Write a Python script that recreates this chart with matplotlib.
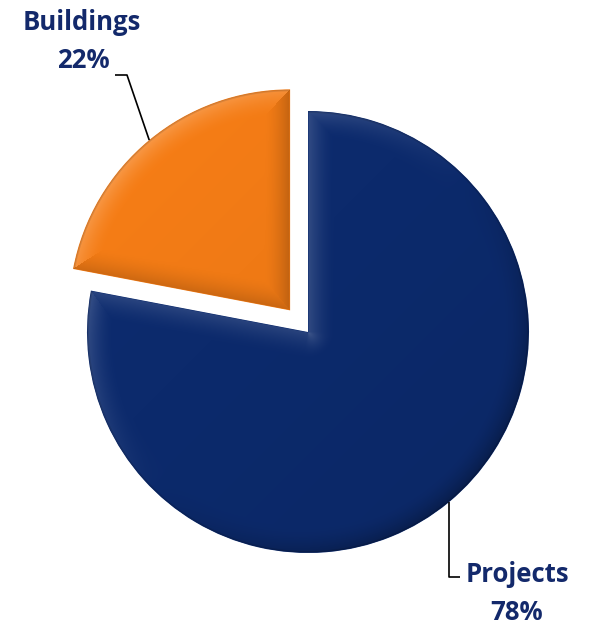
import numpy as np
import matplotlib
matplotlib.use("Agg")
import matplotlib.pyplot as plt
from matplotlib.colors import to_rgb

# Portfolio split
categories = ["Projects", "Buildings"]
shares = [78, 22]
pct_labels = ["78%", "22%"]
slice_colors = ["#0c2a6c", "#f07a15"]
explode = [0.0, 0.127]

W, H = 589, 626
R_PX = 221.0          # pie radius in pixels
CX, CY = 308.0, 332.0  # pie centre in pixels (from top-left)
TEXT_COLOR = "#13296b"


def px(x, y):
    """Pixel position (from top-left) to data coordinates (radius = 1)."""
    return (x - CX) / R_PX, (CY - y) / R_PX


fig = plt.figure(figsize=(W / 100, H / 100), dpi=100)
ax = fig.add_axes([0, 0, 1, 1])

wedges, _ = ax.pie(shares, colors=slice_colors, explode=explode,
                   startangle=90, counterclock=False, radius=1.0,
                   center=(0, 0), wedgeprops=dict(linewidth=0))

x0, y1 = px(0, 0)
x1, y0 = px(W, H)
ax.set_xlim(x0, x1)
ax.set_ylim(y0, y1)
ax.set_aspect("equal")
ax.axis("off")

# Bevel shading over each wedge
gx = np.linspace(x0, x1, W, endpoint=False) + (x1 - x0) / W / 2
gy = np.linspace(y1, y0, H, endpoint=False) - (y1 - y0) / H / 2
XX, YY = np.meshgrid(gx, gy)
light = np.array([-1.0, 1.0]) / np.sqrt(2)
bevel_w = 26.0 / R_PX
pix = 1.0 / R_PX

for w, col in zip(wedges, slice_colors):
    cx, cy = w.center
    r = w.r
    t1, t2 = np.deg2rad(w.theta1), np.deg2rad(w.theta2)
    rx, ry = XX - cx, YY - cy
    rho = np.hypot(rx, ry) + 1e-12
    ang = np.mod(np.arctan2(ry, rx) - t1, 2 * np.pi)
    span = np.mod(t2 - t1, 2 * np.pi)
    if span == 0:
        span = 2 * np.pi
    inside = (ang <= span) & (rho <= r)

    # distance to the arc
    d_arc = r - rho
    nx_arc, ny_arc = rx / rho, ry / rho

    dists = [np.abs(d_arc)]
    nxs = [nx_arc]
    nys = [ny_arc]
    for t, sgn in ((t1, -1.0), (t2, 1.0)):
        ux, uy = np.cos(t), np.sin(t)
        proj = rx * ux + ry * uy
        perp = np.abs(rx * uy - ry * ux)
        d = np.where(proj < 0, rho,
                     np.where(proj > r, np.hypot(rx - r * ux, ry - r * uy), perp))
        # outward normal of the straight edge
        nx = np.full_like(rx, -sgn * uy)
        ny = np.full_like(rx, sgn * ux)
        nx = np.where(proj < 0, -nx_arc, nx)
        ny = np.where(proj < 0, -ny_arc, ny)
        dists.append(d)
        nxs.append(nx)
        nys.append(ny)
    dists = np.stack(dists)
    idx = np.argmin(dists, axis=0)
    dmin = np.take_along_axis(dists, idx[None], 0)[0]
    nx = np.take_along_axis(np.stack(nxs), idx[None], 0)[0]
    ny = np.take_along_axis(np.stack(nys), idx[None], 0)[0]

    f = np.clip(1 - dmin / bevel_w, 0, 1) ** 1.6
    dot = nx * light[0] + ny * light[1]
    base = np.array(to_rgb(col))
    rgb = np.broadcast_to(base, XX.shape + (3,)).copy()
    # soft sheen toward the upper left
    sheen = np.clip(((-rx + ry) / (2 * r)) * 0.5 + 0.5, 0, 1)
    rgb = rgb * (0.94 + 0.10 * sheen[..., None])
    lit = np.clip(dot, 0, None)[..., None] * f[..., None]
    shade = np.clip(-dot, 0, None)[..., None] * f[..., None]
    rgb = rgb + (1 - rgb) * 0.22 * lit
    rgb = rgb * (1 - 0.28 * shade)
    # thin darker rim on the outer arc
    rim = np.clip(1 - np.abs(d_arc) / (2.5 * pix), 0, 1)[..., None]
    rgb = rgb * (1 - 0.25 * rim)
    rgb = np.clip(rgb, 0, 1)

    alpha = inside * np.clip(dmin / pix, 0, 1)
    img = np.dstack([rgb, alpha])
    ax.imshow(img, extent=(x0, x1, y0, y1), origin="upper",
              interpolation="none", zorder=3)


def arc_mid(w):
    tm = np.deg2rad(0.5 * (w.theta1 + w.theta2))
    cx, cy = w.center
    return cx + w.r * np.cos(tm), cy + w.r * np.sin(tm)


line_kw = dict(color="black", lw=1.2, solid_capstyle="butt", zorder=4)
txt_kw = dict(fontfamily="Open Sans", fontweight="bold", fontsize=18.5,
              color=TEXT_COLOR, ha="center", va="baseline", zorder=5)

# Buildings label and leader
bx, by = arc_mid(wedges[1])
ex, ey = px(127, 75)
sx, sy = px(115, 75)
ax.plot([bx, ex, sx], [by, ey, sy], **line_kw)
ax.text(*px(82, 30), categories[1], **txt_kw)
ax.text(*px(83, 68), pct_labels[1], **txt_kw)

# Projects label and leader
mx, my = arc_mid(wedges[0])
ey = px(0, 577)[1]
sx, sy = px(460, 577)
ax.plot([mx, mx, sx], [my, ey, sy], **line_kw)
ax.text(*px(517, 582), categories[0], **txt_kw)
ax.text(*px(517, 620), pct_labels[0], **txt_kw)

fig.savefig("out.png", dpi=100, facecolor="white")
